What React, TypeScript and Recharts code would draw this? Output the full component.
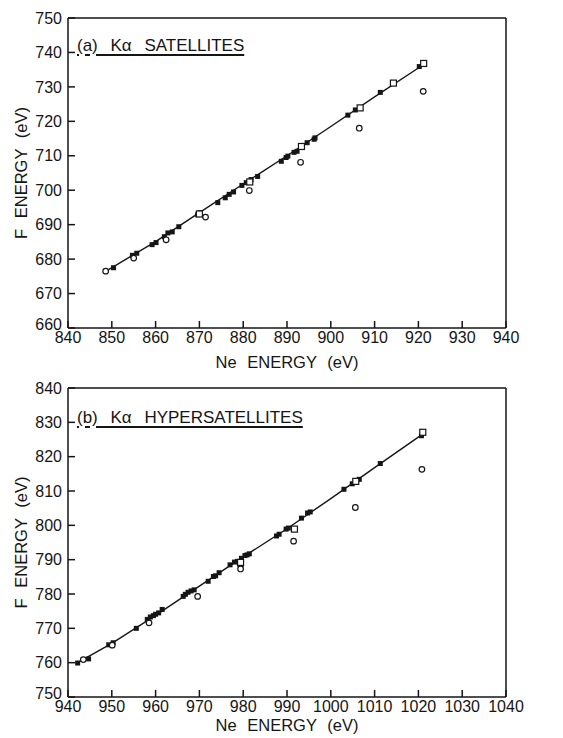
import React from "react";
import { ScatterChart, Scatter, XAxis, YAxis } from "recharts";

// (a) K-alpha satellites: Ne energy vs F energy (eV)
const satXTicks = [840, 850, 860, 870, 880, 890, 900, 910, 920, 930, 940];
const satYTicks = [660, 670, 680, 690, 700, 710, 720, 730, 740, 750];

const satFilled = [
  [850.4, 677.5], [854.7, 681.1], [855.7, 681.7], [859.2, 684.2], [860.1, 684.8],
  [862.0, 686.5], [862.8, 687.6], [863.8, 687.9], [865.3, 689.4], [869.6, 692.9],
  [870.2, 693.5], [874.2, 696.4], [875.9, 697.8], [876.8, 698.8], [877.8, 699.5],
  [879.7, 701.4], [880.7, 702.2], [881.8, 703.1], [883.3, 704.0], [888.7, 708.4],
  [889.8, 709.5], [890.2, 709.9], [891.6, 711.0], [892.3, 711.3], [894.6, 713.8],
  [896.2, 714.8], [896.4, 715.2], [903.9, 721.8], [905.6, 723.3], [911.3, 728.4],
  [920.2, 735.9],
];
const satOpenSq = [
  [870.0, 693.1], [881.5, 702.4], [893.3, 712.7], [906.7, 723.9], [914.3, 731.1], [921.2, 736.8],
];
const satOpenCirc = [
  [848.6, 676.5], [855.0, 680.3], [862.4, 685.6], [871.4, 692.2], [881.4, 699.9],
  [893.1, 708.1], [906.5, 718.0], [921.1, 728.7],
];
const satFit = [
  [848.8, 676.6], [860, 685.1], [870, 693.5], [880, 701.8], [890, 710.0],
  [900, 718.5], [910, 727.1], [921.2, 736.5],
];

// (b) K-alpha hypersatellites
const hypXTicks = [940, 950, 960, 970, 980, 990, 1000, 1010, 1020, 1030, 1040];
const hypYTicks = [750, 760, 770, 780, 790, 800, 810, 820, 830, 840];

const hypFilled = [
  [942.2, 759.9], [944.7, 761.1], [949.3, 765.2], [950.3, 765.8], [955.6, 770.0],
  [958.1, 772.6], [958.8, 773.3], [959.5, 773.7], [960.0, 774.1], [960.7, 774.5],
  [961.5, 775.5], [966.3, 779.3], [966.8, 779.9], [967.4, 780.5], [968.1, 780.9],
  [968.8, 781.2], [972.0, 783.7], [973.2, 785.1], [973.7, 785.3], [974.5, 786.2],
  [977.0, 788.5], [978.0, 789.3], [978.7, 789.5], [979.6, 790.4], [980.4, 791.2],
  [980.9, 791.4], [981.4, 791.7], [987.6, 796.9], [988.2, 797.4], [989.8, 798.9],
  [990.3, 799.2], [993.3, 802.1], [994.7, 803.6], [995.3, 803.9], [1003.0, 810.5],
  [1004.9, 812.1], [1006.5, 813.4], [1011.3, 818.0], [1020.7, 826.1],
];
const hypOpenSq = [[979.4, 789.2], [991.7, 798.9], [1005.7, 812.8], [1021.0, 827.1]];
const hypOpenCirc = [
  [943.5, 760.9], [950.1, 765.1], [958.5, 771.6], [969.6, 779.3], [979.4, 788.4],
  [979.4, 787.3], [991.5, 795.4], [1005.6, 805.2], [1020.8, 816.3],
];
const hypFit = [
  [942.2, 760.0], [950, 765.6], [960, 773.8], [970, 782.3], [980, 790.8],
  [990, 799.0], [1000, 807.8], [1010, 816.8], [1020.8, 826.4],
];

const INK = "#151515";
const FONT = "'Liberation Sans', Arial, sans-serif";

const toPts = (arr: number[][]) => arr.map(([x, y]) => ({ x, y }));

const FilledSquare = (p: any) => (
  <rect x={p.cx - 2.5} y={p.cy - 2.5} width={5} height={5} fill={INK} />
);
const OpenSquare = (p: any) => (
  <rect x={p.cx - 3} y={p.cy - 3} width={6} height={6} fill="#fff" stroke={INK} strokeWidth={1.2} />
);
const OpenCircle = (p: any) => (
  <circle cx={p.cx} cy={p.cy} r={2.8} fill="#fff" stroke={INK} strokeWidth={1.2} />
);
const NoDot = () => <g />;

// left tick labels; the bottom one sits a bit high, clear of the x labels
const YTick = (p: any) => (
  <text
    x={p.x}
    y={p.y - (p.index === 0 ? 4 : 0)}
    dy="0.355em"
    textAnchor="end"
    fontSize={16}
    fill={INK}
  >
    {p.payload.value}
  </text>
);

type PanelProps = {
  height: number;
  top: number;
  bottomAxis: number;
  titleOffset: number;
  xTicks: number[];
  yTicks: number[];
  fit: number[][];
  filled: number[][];
  openSq: number[][];
  openCirc: number[][];
};

function Panel(props: PanelProps) {
  const { xTicks, yTicks } = props;
  const xDom = [xTicks[0], xTicks[xTicks.length - 1]];
  const yDom = [yTicks[0], yTicks[yTicks.length - 1]];
  return (
    <ScatterChart
      width={563}
      height={props.height}
      margin={{ top: props.top, right: 56, bottom: 0, left: 0 }}
    >
      <XAxis
        type="number"
        dataKey="x"
        domain={xDom}
        ticks={xTicks}
        interval={0}
        allowDataOverflow
        height={props.bottomAxis}
        tickSize={-7}
        tickMargin={11}
        stroke={INK}
        strokeWidth={1.5}
        tick={{ fontSize: 16, fill: INK }}
        label={{
          value: "Ne ENERGY (eV)",
          position: "insideBottom",
          offset: props.titleOffset,
          style: { fontSize: 16.5, fill: INK, wordSpacing: 6 },
        }}
      />
      <XAxis
        xAxisId="top"
        orientation="top"
        type="number"
        dataKey="x"
        domain={xDom}
        ticks={xTicks}
        interval={0}
        allowDataOverflow
        height={1}
        tickSize={-7}
        tick={false}
        stroke={INK}
        strokeWidth={1.5}
      />
      <YAxis
        type="number"
        dataKey="y"
        domain={yDom}
        ticks={yTicks}
        interval={0}
        allowDataOverflow
        width={68}
        tickSize={-7}
        tickMargin={13}
        stroke={INK}
        strokeWidth={1.5}
        tick={YTick}
        label={{
          value: "F ENERGY (eV)",
          angle: -90,
          position: "insideLeft",
          offset: 21,
          style: { fontSize: 16.5, fill: INK, textAnchor: "middle", wordSpacing: 6 },
        }}
      />
      <YAxis
        yAxisId="right"
        orientation="right"
        type="number"
        dataKey="y"
        domain={yDom}
        ticks={yTicks}
        interval={0}
        allowDataOverflow
        width={1}
        tickSize={-7}
        tick={false}
        stroke={INK}
        strokeWidth={1.5}
      />
      <Scatter
        data={toPts(props.fit)}
        line={{ stroke: INK, strokeWidth: 1.4 }}
        shape={NoDot}
        isAnimationActive={false}
      />
      <Scatter data={toPts(props.filled)} shape={FilledSquare} isAnimationActive={false} />
      <Scatter data={toPts(props.openCirc)} shape={OpenCircle} isAnimationActive={false} />
      <Scatter data={toPts(props.openSq)} shape={OpenSquare} isAnimationActive={false} />
    </ScatterChart>
  );
}

const titleStyle: React.CSSProperties = {
  position: "absolute",
  left: 77,
  fontSize: 17,
  lineHeight: "18px",
  letterSpacing: 0,
  wordSpacing: 8,
  color: INK,
  textDecoration: "underline",
  textDecorationThickness: "1.5px",
  textUnderlineOffset: "3px",
  whiteSpace: "nowrap",
};

export default function App() {
  return (
    <div
      style={{
        position: "absolute",
        left: 0,
        top: 0,
        width: 563,
        height: 738,
        background: "#fff",
        fontFamily: FONT,
        overflow: "hidden",
      }}
    >
      <div style={{ position: "absolute", left: 0, top: 0 }}>
        <Panel
          height={380}
          top={17}
          bottomAxis={52}
          titleOffset={12}
          xTicks={satXTicks}
          yTicks={satYTicks}
          fit={satFit}
          filled={satFilled}
          openSq={satOpenSq}
          openCirc={satOpenCirc}
        />
      </div>
      <div style={{ position: "absolute", left: 0, top: 370 }}>
        <Panel
          height={368}
          top={17}
          bottomAxis={41}
          titleOffset={7}
          xTicks={hypXTicks}
          yTicks={hypYTicks}
          fit={hypFit}
          filled={hypFilled}
          openSq={hypOpenSq}
          openCirc={hypOpenCirc}
        />
      </div>
      <div style={{ ...titleStyle, top: 36.5 }}>(a) Kα SATELLITES</div>
      <div style={{ ...titleStyle, top: 409 }}>(b) Kα HYPERSATELLITES</div>
    </div>
  );
}
